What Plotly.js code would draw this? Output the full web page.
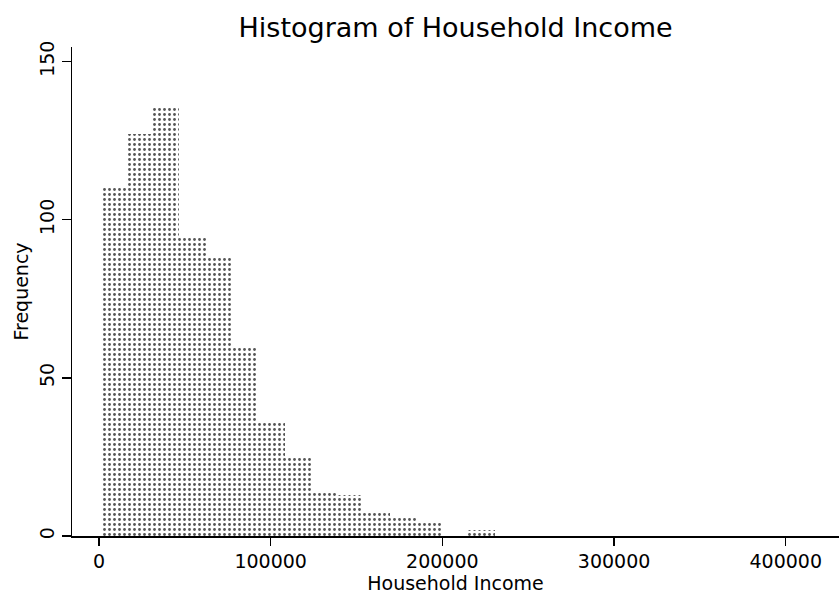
<!DOCTYPE html>
<html>
<head>
<meta charset="utf-8">
<script src="https://cdn.plot.ly/plotly-3.0.1.min.js"></script>
<style>html,body{margin:0;padding:0;background:#fff;}#chart{width:839px;height:597px;}</style>
</head>
<body>
<div id="chart"></div>
<script>
// Histogram bins (lower edges, Household Income) and frequencies
const binWidth = 15300;
const binLower = [1000, 16300, 31600, 46900, 62200, 77500, 92800, 108100, 123400, 138700, 154000, 169300, 184600, 199900, 215200];
const frequency = [110, 127, 136, 95, 88, 60, 36, 25, 14, 13, 8, 6, 4, 0, 2];
const xTicks = [0, 100000, 200000, 300000, 400000];
const yTicks = [0, 50, 100, 150];

const FONT = 'DejaVu Sans, Arial, sans-serif';

const trace = {
  type: 'bar',
  x: binLower,
  y: frequency,
  width: binLower.map(() => binWidth),
  offset: 0,
  marker: {
    color: '#ffffff',
    line: {width: 0},
    pattern: {shape: '.', fgcolor: '#555555', bgcolor: '#ffffff', size: 5, solidity: 0.25}
  },
  hoverinfo: 'x+y'
};

const layout = {
  width: 839, height: 597,
  paper_bgcolor: '#ffffff', plot_bgcolor: '#ffffff',
  margin: {l: 72, r: 0, t: 47, b: 61},
  showlegend: false,
  bargap: 0,
  font: {family: FONT, color: '#000', size: 19},
  title: {
    text: 'Histogram of Household Income',
    font: {family: FONT, size: 27, color: '#000'},
    x: 0.543, xanchor: 'center', xref: 'container',
    y: 1 - 28/597, yanchor: 'middle', yref: 'container'
  },
  xaxis: {
    range: [-15700, 431000],
    tickvals: xTicks,
    ticktext: xTicks.map(String),
    ticks: 'outside', ticklen: 8, tickwidth: 1.3, tickcolor: '#000',
    showline: true, linecolor: '#000', linewidth: 1.5,
    showgrid: false, zeroline: false,
    tickfont: {family: FONT, size: 19, color: '#000'},
    title: {text: 'Household Income', font: {family: FONT, size: 19, color: '#000'}, standoff: 2}
  },
  yaxis: {
    range: [0, 154.6],
    tickvals: yTicks,
    ticktext: yTicks.map(String),
    tickangle: -90,
    ticks: 'outside', ticklen: 9, tickwidth: 1.3, tickcolor: '#000',
    showline: true, linecolor: '#000', linewidth: 1.5,
    showgrid: false, zeroline: false,
    tickfont: {family: FONT, size: 19, color: '#000'},
    title: {text: 'Frequency', font: {family: FONT, size: 19, color: '#000'}, standoff: 2}
  }
};

Plotly.newPlot('chart', [trace], layout, {displayModeBar: false, staticPlot: true});
</script>
</body>
</html>
